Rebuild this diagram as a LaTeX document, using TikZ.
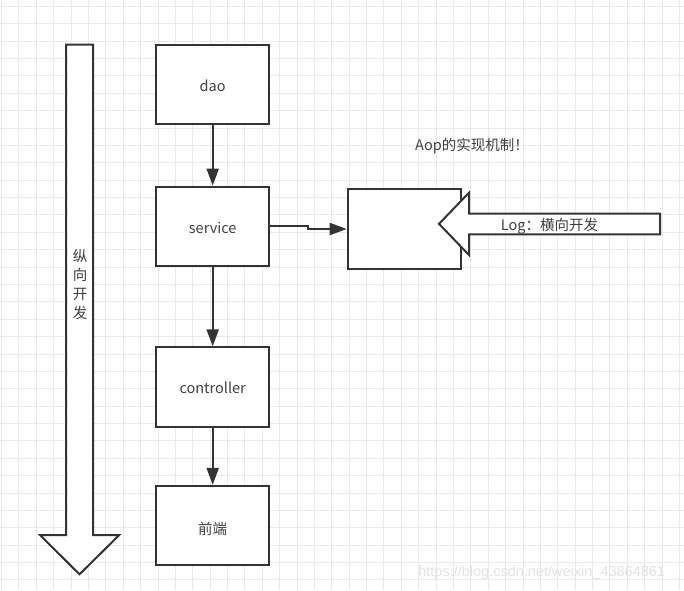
\documentclass[tikz,border=0pt]{standalone}
\usepackage{fontspec}
\setmainfont{Noto Sans CJK SC}
\newfontfamily\wmfont{Liberation Sans}
\usetikzlibrary{arrows.meta}
\definecolor{linec}{HTML}{333333}
\definecolor{textc}{HTML}{404040}
\definecolor{gridc}{HTML}{EAEAEA}
\definecolor{wmc}{HTML}{E2E2E2}
\tikzset{
  gridline/.style={draw=gridc, line width=1pt},
  box/.style={draw=linec, line width=2pt, fill=white, rectangle,
    minimum width=113.3pt, minimum height=79.3pt, inner sep=0pt,
    text height=13.5pt, text depth=0pt,
    text=textc, font=\fontsize{14.5}{17}\selectfont},
  conn/.style={draw=linec, line width=2pt,
    -{Triangle[length=17pt,width=12pt]}},
  bigarrow/.style={draw=linec, line width=2pt, fill=white, line join=miter},
  label/.style={text=textc, font=\fontsize{14.5}{17}\selectfont, inner sep=0pt}
}
\begin{document}
\begin{tikzpicture}[x=1pt,y=-1pt]
\useasboundingbox (0,0) rectangle (684,590);
\fill[white] (0,0) rectangle (684,590);
% grid
\foreach \i in {0,...,39} {
  \draw[gridline] ({1.6+17.38*\i},0) -- ({1.6+17.38*\i},590);
}
\foreach \j in {0,...,34} {
  \draw[gridline] (0,{6.4+17.38*\j}) -- (684,{6.4+17.38*\j});
}
% vertical big arrow
\draw[bigarrow] (66,44.7) -- (93,44.7) -- (93,535) -- (119.3,535) -- (79.5,574.3)
  -- (40,535) -- (66,535) -- cycle;
\node[label, align=center, font=\fontsize{14.5}{19}\selectfont] (vtext) at (80,285) {纵\\向\\开\\发};
% boxes
\node[box] (dao) at (212.7,84.4) {dao};
\node[box] (service) at (212.7,226.3) {service};
\node[box] (controller) at (212.7,387) {controller};
\node[box, text height=17pt] (front) at (212.7,525.5) {前端};
\node[box, minimum width=113.3pt, minimum height=79.4pt] (aop) at (404.35,229) {};
% connectors
\draw[conn] (dao.south) -- (service.north);
\draw[conn] (service.south) -- (controller.north);
\draw[conn] (controller.south) -- (front.north);
\coordinate (jog) at (308.3,228);
\draw[conn] (service.east) -| (jog) |- (aop.west);
% horizontal big arrow
\draw[bigarrow] (660,213.7) -- (660,234.3) -- (469,234.3) -- (469,255) -- (439,223.85)
  -- (469,192.7) -- (469,213.7) -- cycle;
\node[label] (logtext) at (549.5,226) {Log：横向开发};
\node[label] (aoptitle) at (472,146.5) {Aop的实现机制！};
% watermark
\node[text=wmc, font=\wmfont\fontsize{14.5}{16}\selectfont, inner sep=0pt] (wm) at (541.7,572.3) {https://blog.csdn.net/weixin\_43864861};
\end{tikzpicture}
\end{document}
